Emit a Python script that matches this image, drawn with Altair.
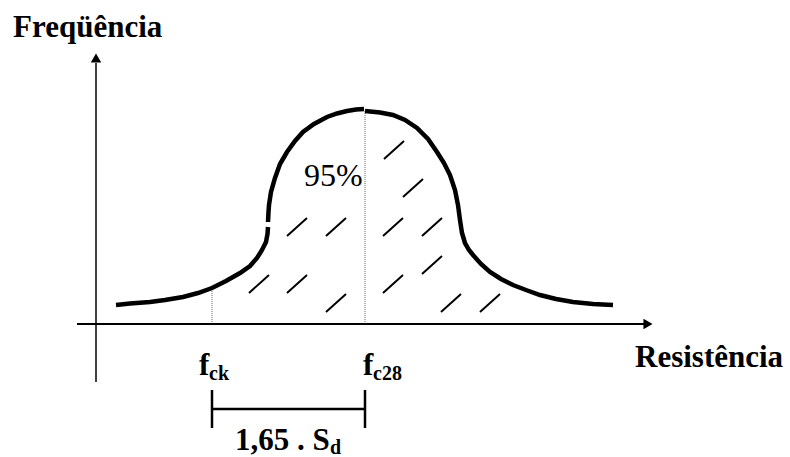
import altair as alt
import pandas as pd

# Frequency curve of concrete strength, in plot units (origin at the axes crossing)
lower_x = [20, 34, 54, 69, 87, 102, 116, 130, 144, 154, 161, 166, 170, 171.5, 172]
lower_y = [19, 20.5, 22, 24, 27, 31, 36, 43, 51, 58, 66, 74, 82, 90, 97]

upper_x = [172, 172.5, 173, 175, 179, 184, 191, 199, 207, 218, 231, 241, 251, 260, 268]
upper_y = [102, 112, 119, 132, 146, 160, 172, 183, 192, 200, 207, 210.5, 213, 214.5, 215]

right_x = [269, 284, 297, 309, 321, 332, 341, 348, 354, 359, 362, 364, 366, 369, 373,
           377, 385, 394, 405, 417, 430, 444, 460, 477, 497, 517]
right_y = [213, 211.5, 209, 204, 196, 185, 172, 161, 149, 134, 119, 104, 91, 81, 74,
           69, 60, 52, 45, 39, 34, 29, 25, 22, 20, 19]

# Hatching inside the 95 % area (centres of the short strokes)
hatch_x = [298, 317, 201, 240, 297, 336, 163, 201, 297, 336, 240, 355, 394]
hatch_y = [174, 136, 97, 97, 97, 97, 40, 40, 40, 59, 21, 21, 21]

fck = 116          # characteristic strength
fc28 = 269         # mean strength at 28 days
fck_height = 36
fc28_height = 214

xs = alt.Scale(domain=[-96, 694], nice=False, zero=False)
ys = alt.Scale(domain=[-133, 324], nice=False, zero=False)


def X(f):
    return alt.X(f, type="quantitative", scale=xs, axis=None)


def Y(f):
    return alt.Y(f, type="quantitative", scale=ys, axis=None)


curve = pd.concat([
    pd.DataFrame({"x": lower_x, "y": lower_y, "seg": "lower"}),
    pd.DataFrame({"x": upper_x, "y": upper_y, "seg": "upper"}),
    pd.DataFrame({"x": right_x, "y": right_y, "seg": "right"}),
], ignore_index=True)
curve["ord"] = range(len(curve))

curve_layer = alt.Chart(curve).mark_line(
    color="black", strokeWidth=4.5, strokeCap="butt"
).encode(x=X("x"), y=Y("y"), detail="seg:N", order="ord:Q")

hatch = pd.DataFrame({"cx": hatch_x, "cy": hatch_y})
hatch["x1"] = hatch["cx"] - 10
hatch["x2"] = hatch["cx"] + 10
hatch["y1"] = hatch["cy"] - 9
hatch["y2"] = hatch["cy"] + 9
hatch_layer = alt.Chart(hatch).mark_rule(color="black", strokeWidth=2).encode(
    x=X("x1"), x2="x2", y=Y("y1"), y2="y2"
)

dotted = pd.DataFrame({"x": [fck, fc28], "y0": [0, 0], "y1": [fck_height, fc28_height]})
dotted_layer = alt.Chart(dotted).mark_rule(
    color="#666666", strokeWidth=1, strokeDash=[1, 1]
).encode(x=X("x"), y=Y("y0"), y2="y1")

# Axes with arrowheads
axis_h = alt.Chart(pd.DataFrame({"a": [-19], "b": [549], "y": [0]})).mark_rule(
    color="black", strokeWidth=2).encode(x=X("a"), x2="b", y=Y("y"))
axis_v = alt.Chart(pd.DataFrame({"x": [0], "a": [-58], "b": [261]})).mark_rule(
    color="black", strokeWidth=1.5).encode(x=X("x"), y=Y("a"), y2="b")

arrows_up = alt.Chart(pd.DataFrame({"x": [0], "y": [266]})).mark_point(
    shape="triangle-up", filled=True, color="black", size=110, opacity=1
).encode(x=X("x"), y=Y("y"))
arrows_right = alt.Chart(pd.DataFrame({"x": [552], "y": [0]})).mark_point(
    shape="triangle-right", filled=True, color="black", size=110, opacity=1
).encode(x=X("x"), y=Y("y"))

# Bracket marking 1,65 . Sd between fck and fc28
bracket_h = alt.Chart(pd.DataFrame({"a": [fck], "b": [fc28], "y": [-85]})).mark_rule(
    color="black", strokeWidth=2.5).encode(x=X("a"), x2="b", y=Y("y"))
bracket_v = alt.Chart(pd.DataFrame({"x": [fck, fc28], "y0": [-66, -66], "y1": [-104, -104]})).mark_rule(
    color="black", strokeWidth=2.5).encode(x=X("x"), y=Y("y0"), y2="y1")

FONT = "'Liberation Serif', 'Times New Roman', serif"
labels = pd.DataFrame({
    "t": ["Freqüência", "Resistência", "f", "f", "1,65 . S"],
    "x": [-83, 539, fck - 13, fc28 - 2, 139],
    "y": [287, -43, -51, -51, -126],
})
sub_labels = pd.DataFrame({
    "t": ["ck", "c28", "d"],
    "x": [fck - 3, fc28 + 8, 234],
    "y": [-56, -56, -130],
})

text_big = alt.Chart(labels).mark_text(
    font=FONT, fontSize=31, fontWeight="bold", align="left", baseline="alphabetic", color="black"
).encode(x=X("x"), y=Y("y"), text="t:N")
text_sub = alt.Chart(sub_labels).mark_text(
    font=FONT, fontSize=20, fontWeight="bold", align="left", baseline="alphabetic", color="black"
).encode(x=X("x"), y=Y("y"), text="t:N")
text_pct = alt.Chart(pd.DataFrame({"t": ["95%"], "x": [208], "y": [138]})).mark_text(
    font=FONT, fontSize=32, fontWeight="normal", align="left", baseline="alphabetic", color="black"
).encode(x=X("x"), y=Y("y"), text="t:N")

chart = alt.layer(
    dotted_layer, hatch_layer, axis_h, axis_v, arrows_up, arrows_right,
    curve_layer, bracket_h, bracket_v, text_big, text_sub, text_pct
).properties(
    width=790, height=457, autosize="none", padding=0, background="white"
).configure_view(stroke=None)

chart.save("out.html", embed_options={"renderer": "svg", "actions": False})
